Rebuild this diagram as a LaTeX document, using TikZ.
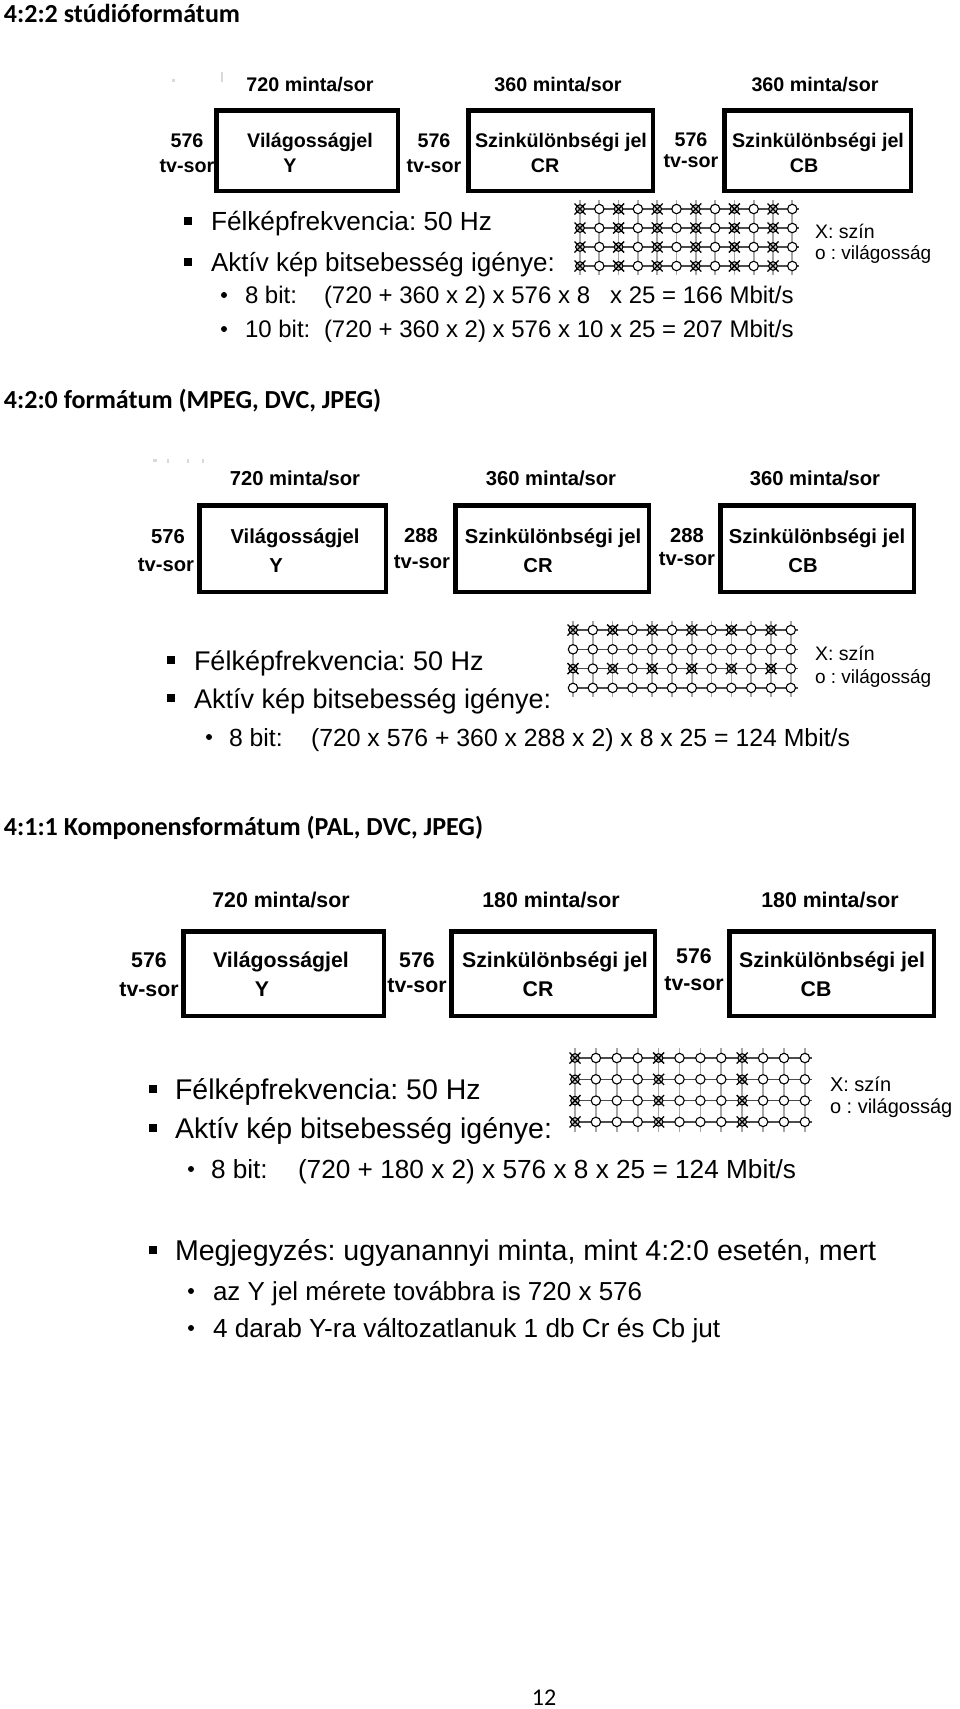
\documentclass[tikz,border=0pt]{standalone}
\usepackage{fontspec}
\setmainfont{Liberation Sans}
\newfontfamily\calib{Carlito}
\newcommand{\fsz}[1]{\fontsize{#1}{#1}\selectfont}
\newcommand{\lumdot}[2]{\draw[fill=white,line width=1.1pt] (#1,#2) circle (4.7pt);}
\newcommand{\chrdot}[2]{\draw[fill=black!20,line width=1.1pt] (#1,#2) circle (4.3pt);
  \draw[line width=1.3pt] (#1,#2) ++(-5.5pt,-5.5pt) -- ++(11pt,11pt);
  \draw[line width=1.3pt] (#1,#2) ++(-5.5pt,5.5pt) -- ++(11pt,-11pt);}
\begin{document}
\frenchspacing
\begin{tikzpicture}[x=1pt,y=-1pt,
  every node/.style={inner sep=0pt, outer sep=0pt},
  ttl/.style={font=\calib\bfseries\fsz{26}, anchor=base west},
  lab/.style={font=\bfseries\fsz{#1}, anchor=base},
  sigbox/.style={draw, line width=4.5pt},
  txt/.style={font=\fsz{#1}, anchor=base west},
  sqb/.style={fill, rectangle, minimum size=7.5pt, draw=none},
  rdb/.style={fill, circle, minimum size=6pt, draw=none},
  hl/.style={draw=black!70, line width=1.2pt},
  vl/.style={draw=black!35, line width=1.7pt},
  art/.style={fill=black!15, draw=none},
]
\useasboundingbox (0,0) rectangle (960,1709);

% ================= Section 1 : 4:2:2 =================
\node[ttl] (t1) at (4,22) {4:2:2 stúdióformátum};
\fill[art] (172,79) rectangle (175,82);
\fill[art] (221,72) rectangle (223,82);

\node[lab=19.7] (a1) at (310,91) {720 minta/sor};
\node[lab=19.7] (a2) at (558,91) {360 minta/sor};
\node[lab=19.7] (a3) at (815,91) {360 minta/sor};

\draw[sigbox] (216.25,110.25) rectangle (397.75,190.75);
\draw[sigbox] (468.25,110.25) rectangle (652.75,190.75);
\draw[sigbox] (724.25,110.25) rectangle (910.75,190.75);

\node[lab=19.7] (y1a) at (310,147) {Világosságjel};
\node[lab=19.7] (y1b) at (290,172) {Y};
\node[lab=19.7] (r1a) at (561,147) {Szinkülönbségi jel};
\node[lab=19.7] (r1b) at (545,172) {CR};
\node[lab=19.7] (c1a) at (818,147) {Szinkülönbségi jel};
\node[lab=19.7] (c1b) at (804,172) {CB};

\node[lab=19.7] (l1a) at (187,147) {576};
\node[lab=19.7] (l1b) at (187,172) {tv-sor};
\node[lab=19.7] (m1a) at (434,147) {576};
\node[lab=19.7] (m1b) at (434,172) {tv-sor};
\node[lab=19.7] (n1a) at (691,146) {576};
\node[lab=19.7] (n1b) at (691,167) {tv-sor};

\node[sqb] (q1a) at (188,221) {};
\node[txt=26.2] (f1) at (211,230.5) {Félképfrekvencia: 50 Hz};
\node[sqb] (q1b) at (188,262) {};
\node[txt=26] (g1) at (211,271.5) {Aktív kép bitsebesség igénye:};
\node[rdb] (d1a) at (224,295) {};
\node[txt=24] (h1a) at (245,303.5) {8 bit:};
\node[txt=24] (h1b) at (324,303.5) {(720 + 360 x 2) x 576 x 8\hphantom{0} x 25 = 166 Mbit/s};
\node[rdb] (d1b) at (224,329) {};
\node[txt=24] (i1a) at (245,337.5) {10 bit:};
\node[txt=24] (i1b) at (324,337.5) {(720 + 360 x 2) x 576 x 10 x 25 = 207 Mbit/s};

\foreach \j in {0,...,3} {\draw[hl] (575,{209+19*\j}) -- (799,{209+19*\j});}
\foreach \i in {0,...,11} {\draw[vl] ({580+19.3*\i},200) -- ({580+19.3*\i},275);}
\foreach \i in {0,...,11} {\foreach \j in {0,...,3} {
  \ifodd\i \lumdot{580+19.3*\i}{209+19*\j}\else \chrdot{580+19.3*\i}{209+19*\j}\fi }}

\node[txt=19.5] (k1a) at (815,238) {X: szín};
\node[txt=19] (k1b) at (815,259) {o : világosság};

% ================= Section 2 : 4:2:0 =================
\node[ttl] (t2) at (4,408) {4:2:0 formátum (MPEG, DVC, JPEG)};
\fill[art] (153,459) rectangle (157,462);
\fill[art] (167,459) rectangle (169,463);
\fill[art] (187,459) rectangle (189,463);
\fill[art] (202,459) rectangle (204,463);

\node[lab=20.2] (a4) at (295,485) {720 minta/sor};
\node[lab=20.2] (a5) at (551,485) {360 minta/sor};
\node[lab=20.2] (a6) at (815,485) {360 minta/sor};

\draw[sigbox] (199.25,505.25) rectangle (385.75,591.75);
\draw[sigbox] (455.25,505.25) rectangle (648.75,591.75);
\draw[sigbox] (720.25,505.25) rectangle (913.75,591.75);

\node[lab=20.2] (y2a) at (295,543) {Világosságjel};
\node[lab=20.2] (y2b) at (276,572) {Y};
\node[lab=20.2] (r2a) at (553,543) {Szinkülönbségi jel};
\node[lab=20.2] (r2b) at (538,572) {CR};
\node[lab=20.2] (c2a) at (817,543) {Szinkülönbségi jel};
\node[lab=20.2] (c2b) at (803,572) {CB};

\node[lab=20.2] (l2a) at (168,543) {576};
\node[lab=20.2] (l2b) at (166,571) {tv-sor};
\node[lab=20.2] (m2a) at (421,542) {288};
\node[lab=20.2] (m2b) at (422,568) {tv-sor};
\node[lab=20.2] (n2a) at (687,542) {288};
\node[lab=20.2] (n2b) at (687,565) {tv-sor};

\node[sqb] (q2a) at (171,660) {};
\node[txt=27] (f2) at (194,670) {Félképfrekvencia: 50 Hz};
\node[sqb] (q2b) at (171,698) {};
\node[txt=27] (g2) at (194,708) {Aktív kép bitsebesség igénye:};
\node[rdb] (d2a) at (209,737) {};
\node[txt=24.8] (h2a) at (229,746) {8 bit:};
\node[txt=24.8] (h2b) at (311,746) {(720 x 576 + 360 x 288 x 2) x 8 x 25 = 124 Mbit/s};

\foreach \j in {0,...,3} {\draw[hl] (568,{630+19.3*\j}) -- (798,{630+19.3*\j});}
\foreach \i in {0,...,11} {\draw[vl] ({573+19.8*\i},621) -- ({573+19.8*\i},697);}
\foreach \i in {0,...,11} {\foreach \j in {0,...,3} {
  \pgfmathtruncatemacro\cc{(1-mod(\i,2))*(1-mod(\j,2))}
  \ifnum\cc=1 \chrdot{573+19.8*\i}{630+19.3*\j}\else \lumdot{573+19.8*\i}{630+19.3*\j}\fi }}

\node[txt=19.5] (k2a) at (815,660) {X: szín};
\node[txt=19] (k2b) at (815,683) {o : világosság};

% ================= Section 3 : 4:1:1 =================
\node[ttl] (t3) at (4,835) {4:1:1 Komponensformátum (PAL, DVC, JPEG)};

\node[lab=21.3] (a7) at (281,907) {720 minta/sor};
\node[lab=21.3] (a8) at (551,907) {180 minta/sor};
\node[lab=21.3] (a9) at (830,907) {180 minta/sor};

\draw[sigbox] (183.25,931.25) rectangle (383.75,1015.75);
\draw[sigbox] (451.25,931.25) rectangle (654.75,1015.75);
\draw[sigbox] (729.25,931.25) rectangle (933.75,1015.75);

\node[lab=21.3] (y3a) at (281,967) {Világosságjel};
\node[lab=21.3] (y3b) at (262,996) {Y};
\node[lab=21.3] (r3a) at (555,967) {Szinkülönbségi jel};
\node[lab=21.3] (r3b) at (538,996) {CR};
\node[lab=21.3] (c3a) at (832,967) {Szinkülönbségi jel};
\node[lab=21.3] (c3b) at (816,996) {CB};

\node[lab=21.3] (l3a) at (149,967) {576};
\node[lab=21.3] (l3b) at (149,996) {tv-sor};
\node[lab=21.3] (m3a) at (417,967) {576};
\node[lab=21.3] (m3b) at (417,992) {tv-sor};
\node[lab=21.3] (n3a) at (694,963) {576};
\node[lab=21.3] (n3b) at (694,990) {tv-sor};

\node[sqb] (q3a) at (153,1089) {};
\node[txt=28.5] (f3) at (175,1099) {Félképfrekvencia: 50 Hz};
\node[sqb] (q3b) at (153,1128) {};
\node[txt=28.5] (g3) at (175,1138) {Aktív kép bitsebesség igénye:};
\node[rdb] (d3a) at (191,1169) {};
\node[txt=26.2] (h3a) at (211,1178) {8 bit:};
\node[txt=26.2] (h3b) at (298,1178) {(720 + 180 x 2) x 576 x 8 x 25 = 124 Mbit/s};

\foreach \j in {0,...,3} {\draw[hl] (570,{1058+21.3*\j}) -- (812,{1058+21.3*\j});}
\foreach \i in {0,...,11} {\draw[vl] ({575+20.9*\i},1048) -- ({575+20.9*\i},1132);}
\foreach \i in {0,...,11} {\foreach \j in {0,...,3} {
  \pgfmathtruncatemacro\cc{mod(\i,4)}
  \ifnum\cc=0 \chrdot{575+20.9*\i}{1058+21.3*\j}\else \lumdot{575+20.9*\i}{1058+21.3*\j}\fi }}

\node[txt=20] (k3a) at (830,1091) {X: szín};
\node[txt=20] (k3b) at (830,1113) {o : világosság};

\node[sqb] (q3c) at (153,1250) {};
\node[txt=28.6] (e3) at (175,1260) {Megjegyzés: ugyanannyi minta, mint 4:2:0 esetén, mert};
\node[rdb] (d3b) at (191,1291) {};
\node[txt=26] (e3a) at (213,1300) {az Y jel mérete továbbra is 720 x 576};
\node[rdb] (d3c) at (191,1328) {};
\node[txt=26.2] (e3b) at (213,1337) {4 darab Y-ra változatlanuk 1 db Cr és Cb jut};

\node[font=\calib\fsz{24}, anchor=base] (pg) at (544,1705) {12};
\end{tikzpicture}
\end{document}
